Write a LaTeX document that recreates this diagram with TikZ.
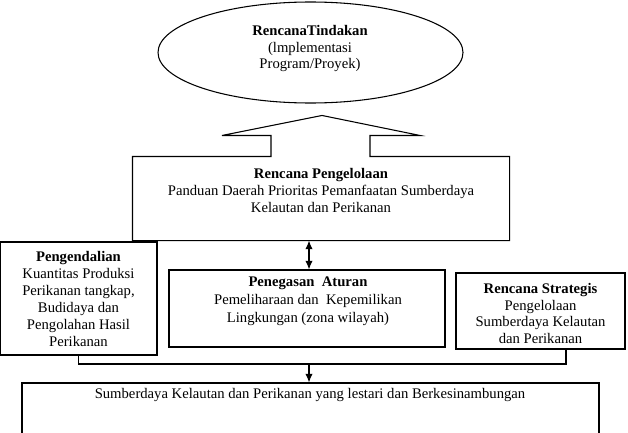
\documentclass[tikz,border=0pt]{standalone}
\usepackage{fontspec}
\setmainfont{Liberation Serif}
\usetikzlibrary{shapes.geometric,arrows.meta,calc}
\begin{document}
\begin{tikzpicture}[x=0.75pt,y=-0.75pt,line width=0.8pt,
  box/.style={draw, rectangle, inner sep=0pt},
  txt/.style={align=center, inner sep=0pt, font=\fontsize{11}{12.75}\selectfont},
  arr/.style={-{Latex[length=6.5pt,width=5.5pt]}},
  arrtwo/.style={{Latex[length=6.5pt,width=5.5pt]}-{Latex[length=6.5pt,width=5.5pt]}}]
\clip (0,0) rectangle (628,432);
% ellipse
\node[ellipse, draw, minimum width=228.75pt, minimum height=75.75pt, inner sep=0pt] (E) at (310.5,52.5) {};
\node[txt, font=\fontsize{11}{12.4}\selectfont] (Et) at (310,48.5) {\textbf{RencanaTindakan}\\(lmplementasi\\Program/Proyek)};
% Rencana Pengelolaan with big arrow
\node[inner sep=0pt, minimum width=282pt, minimum height=62.25pt] (RP) at (321,198.5) {};
\draw ($(RP.north)+(-50,0)$) -- (RP.north west) -- (RP.south west) -- (RP.south east) -- (RP.north east)
  -- ($(RP.north)+(49,0)$) -- ($(RP.north)+(49,-21)$) -- ($(RP.north)+(99,-21)$) -- ($(RP.north)+(1,-41)$)
  -- ($(RP.north)+(-99,-21)$) -- ($(RP.north)+(-50,-21)$) -- cycle;
\node[txt] (RPt) at (321,190) {\textbf{Rencana Pengelolaan}\\Panduan Daerah Prioritas Pemanfaatan Sumberdaya\\Kelautan dan Perikanan};
% Pengendalian
\node[box, minimum width=117.75pt, minimum height=84.75pt] (PD) at (78.5,298.5) {};
\node[txt] (PDt) at (78.5,299) {\textbf{Pengendalian}\\Kuantitas Produksi\\Perikanan tangkap,\\Budidaya dan\\Pengolahan Hasil\\Perikanan};
% Penegasan Aturan
\node[box, minimum width=207pt, minimum height=57.75pt] (PA) at (307,308.5) {};
\node[txt, font=\fontsize{11}{13.5}\selectfont] (PAt) at (308,301.5) {\textbf{Penegasan\ \ Aturan}\\Pemeliharaan dan\ \ Kepemilikan\\Lingkungan (zona wilayah)};
% Rencana Strategis
\node[box, minimum width=126.75pt, minimum height=57pt] (RS) at (540.5,311) {};
\node[txt, font=\fontsize{11}{12.4}\selectfont] (RSt) at (540.5,313.5) {\textbf{Rencana Strategis}\\Pengelolaan\\Sumberdaya Kelautan\\dan Perikanan};
% Bottom box
\node[box, minimum width=432.75pt, minimum height=57.75pt] (B) at (310.5,421.5) {};
\node[txt] (Bt) at (310,395) {Sumberdaya Kelautan dan Perikanan yang lestari dan Berkesinambungan};
% connectors
\coordinate (J) at (309,364);
\coordinate (D) at (309,0);
\draw (PD.south) |- (J) -| ($(RS.south)+(25.5,0)$);
\draw[arr] (J) -- (J |- B.north);
\draw[arrtwo] (RP.south -| D) -- (PA.north -| D);
\end{tikzpicture}
\end{document}
